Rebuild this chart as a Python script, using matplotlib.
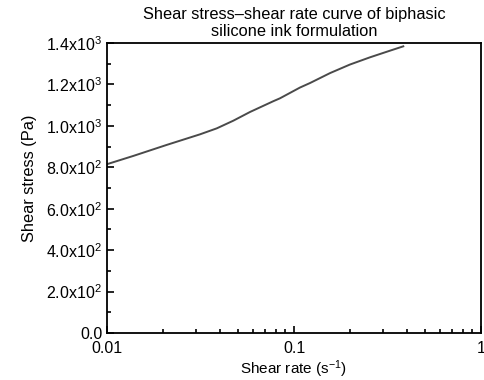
import matplotlib
matplotlib.use('Agg')
import matplotlib.pyplot as plt
from matplotlib.ticker import FixedLocator, MultipleLocator, FuncFormatter

plt.rcParams['font.family'] = ['Liberation Sans', 'DejaVu Sans']
plt.rcParams['mathtext.default'] = 'regular'

# shear rate (1/s) and shear stress (Pa)
shear_rate = [0.01, 0.01384, 0.02085, 0.0314, 0.03864, 0.04737, 0.05816, 0.07748,
              0.0841, 0.1076, 0.1219, 0.156, 0.199, 0.2549, 0.326, 0.384]
shear_stress = [815, 855, 908, 959, 988, 1025, 1067, 1119,
                1133, 1185, 1207, 1255, 1296, 1331, 1363, 1384]

y_ticks = [0, 200, 400, 600, 800, 1000, 1200, 1400]
x_ticks = [0.01, 0.1, 1]
x_labels = ['0.01', '0.1', '1']


def sci_fmt(v, pos):
    if v == 0:
        return '0.0'
    exp = len(str(int(v))) - 1
    return f'{v / 10**exp:.1f}x10$^{{{exp}}}$'


fig = plt.figure(figsize=(4.85, 3.8), dpi=100)
ax = fig.add_axes([0.2206, 0.1237, 0.7712, 0.7631])

ax.plot(shear_rate, shear_stress, color='#4a4a4a', lw=1.4)

ax.set_xscale('log')
ax.set_xlim(0.01, 1)
ax.set_ylim(0, 1400)
ax.xaxis.set_major_locator(FixedLocator(x_ticks))
ax.set_xticklabels(x_labels)
ax.yaxis.set_major_locator(FixedLocator(y_ticks))
ax.yaxis.set_minor_locator(MultipleLocator(100))
ax.yaxis.set_major_formatter(FuncFormatter(sci_fmt))

ax.tick_params(which='both', direction='in', top=False, right=False, labelsize=11.5, width=1.2)
ax.tick_params(which='major', length=5)
ax.tick_params(which='minor', length=3)
ax.tick_params(axis='x', which='major', pad=5.5)
for s in ax.spines.values():
    s.set_linewidth(1.3)

ax.set_xlabel('Shear rate (s$^{-1}$)', fontsize=11, labelpad=2)
ax.set_ylabel('Shear stress (Pa)', fontsize=11.8)
ax.yaxis.set_label_coords(-0.187, 0.534)
ax.set_title('Shear stress\u2013shear rate curve of biphasic\nsilicone ink formulation', fontsize=11.8,
             linespacing=1.2, pad=5)

fig.savefig('out.png', dpi=100)
